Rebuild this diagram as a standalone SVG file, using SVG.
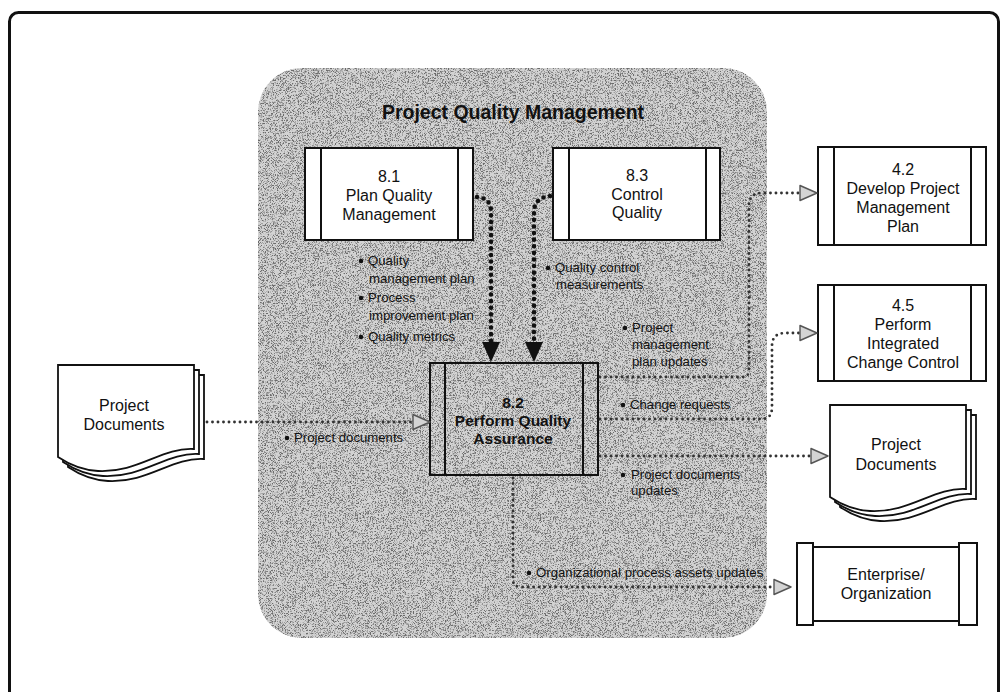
<svg xmlns="http://www.w3.org/2000/svg" width="1008" height="692" viewBox="0 0 1008 692">
  <style>
    .frame { fill: #fff; stroke: #111; stroke-width: 3; }
    .box { fill: #fff; stroke: #111; stroke-width: 2; }
    .box-clear { fill: none; stroke: #111; stroke-width: 2; }
    .bar { stroke: #111; stroke-width: 2; }
    .doc { fill: #fff; stroke: #111; stroke-width: 1.8; }
    .t-node { font-family: "Liberation Sans", Arial, sans-serif; font-size: 16px; fill: #111; text-anchor: middle; }
    .t-bold { font-family: "Liberation Sans", Arial, sans-serif; font-size: 15.5px; font-weight: bold; fill: #111; text-anchor: middle; }
    .t-title { font-family: "Liberation Sans", Arial, sans-serif; font-size: 19.5px; font-weight: bold; fill: #111; text-anchor: middle; }
    .t-lbl { font-family: "Liberation Sans", Arial, sans-serif; font-size: 13.2px; fill: #111; }
    .bullet { fill: #111; }
    .flow { fill: none; stroke: #333; stroke-width: 2.9; stroke-linecap: round; stroke-dasharray: 0 5.5; }
    .flow-main { fill: none; stroke: #111; stroke-width: 4.6; stroke-linecap: round; stroke-dasharray: 0 6.6; }
  </style>
  <defs>
    <!-- fine speckle over the process-group area -->
    <filter id="grain" x="0" y="0" width="1" height="1" color-interpolation-filters="sRGB">
      <feTurbulence type="fractalNoise" baseFrequency="1.4" numOctaves="1" seed="7" result="noise"/>
      <feColorMatrix in="noise" type="matrix" values="0 0 0 0 0.42  0 0 0 0 0.42  0 0 0 0 0.42  0 0 0 -5 2.6" result="specks"/>
      <feComposite in="specks" in2="SourceAlpha" operator="in" result="inside"/>
      <feMerge>
        <feMergeNode in="SourceGraphic"/>
        <feMergeNode in="inside"/>
      </feMerge>
    </filter>
    <!-- hollow grey arrowhead; base of the head sits on the path end -->
    <marker id="open-head" markerUnits="userSpaceOnUse" markerWidth="20" markerHeight="18" refX="0" refY="0" orient="auto" overflow="visible">
      <path d="M0,-7.5 L17,0 L0,7.5 Z" fill="#d4d4d4" stroke="#555" stroke-width="1.4" stroke-linejoin="round"/>
    </marker>
    <!-- solid black arrowhead for the main inputs -->
    <marker id="solid-head" markerUnits="userSpaceOnUse" markerWidth="22" markerHeight="22" refX="0" refY="0" orient="auto" overflow="visible">
      <path d="M-1,-9 L19,0 L-1,9 Z" fill="#111"/>
    </marker>
    <!-- document icon outline, 136 wide -->
    <path id="doc-shape" d="M0,0 H136 V84 C104,82 80,108 40,106 C22,105 9,98 0,92 Z"/>
  </defs>

  <!-- outer frame -->
  <rect class="frame" x="9.5" y="12.5" width="989" height="700" rx="9"/>

  <!-- knowledge area background -->
  <g id="area">
    <rect x="258" y="68" width="509" height="570" rx="44" fill="#d3d3d3" filter="url(#grain)"/>
    <text class="t-title" x="513" y="119">Project Quality Management</text>
  </g>

  <!-- nodes -->
  <g id="node-8-1">
    <rect class="box" x="305" y="148" width="168" height="92"/>
    <line class="bar" x1="321" y1="148" x2="321" y2="240"/>
    <line class="bar" x1="458" y1="148" x2="458" y2="240"/>
    <text class="t-node" x="389" y="182">8.1</text>
    <text class="t-node" x="389" y="201">Plan Quality</text>
    <text class="t-node" x="389" y="220">Management</text>
  </g>

  <g id="node-8-3">
    <rect class="box" x="553" y="148" width="167" height="92"/>
    <line class="bar" x1="569" y1="148" x2="569" y2="240"/>
    <line class="bar" x1="706" y1="148" x2="706" y2="240"/>
    <text class="t-node" x="637" y="181">8.3</text>
    <text class="t-node" x="637" y="200">Control</text>
    <text class="t-node" x="637" y="218">Quality</text>
  </g>

  <g id="node-8-2">
    <rect class="box-clear" x="430" y="363" width="168" height="112"/>
    <line class="bar" x1="445" y1="363" x2="445" y2="475"/>
    <line class="bar" x1="583" y1="363" x2="583" y2="475"/>
    <text class="t-bold" x="513" y="408">8.2</text>
    <text class="t-bold" x="513" y="426">Perform Quality</text>
    <text class="t-bold" x="513" y="444">Assurance</text>
  </g>

  <g id="node-4-2">
    <rect class="box" x="818" y="147" width="168" height="98"/>
    <line class="bar" x1="834" y1="147" x2="834" y2="245"/>
    <line class="bar" x1="971" y1="147" x2="971" y2="245"/>
    <text class="t-node" x="903" y="175">4.2</text>
    <text class="t-node" x="903" y="194">Develop Project</text>
    <text class="t-node" x="903" y="213">Management</text>
    <text class="t-node" x="903" y="232">Plan</text>
  </g>

  <g id="node-4-5">
    <rect class="box" x="818" y="285" width="168" height="96"/>
    <line class="bar" x1="834" y1="285" x2="834" y2="381"/>
    <line class="bar" x1="971" y1="285" x2="971" y2="381"/>
    <text class="t-node" x="903" y="311">4.5</text>
    <text class="t-node" x="903" y="330">Perform</text>
    <text class="t-node" x="903" y="349">Integrated</text>
    <text class="t-node" x="903" y="368">Change Control</text>
  </g>

  <g id="doc-in">
    <use href="#doc-shape" class="doc" transform="translate(68,375)"/>
    <use href="#doc-shape" class="doc" transform="translate(63,370)"/>
    <use href="#doc-shape" class="doc" transform="translate(58,365)"/>
    <text class="t-node" x="124" y="411">Project</text>
    <text class="t-node" x="124" y="430">Documents</text>
  </g>

  <g id="doc-out">
    <use href="#doc-shape" class="doc" transform="translate(840,415)"/>
    <use href="#doc-shape" class="doc" transform="translate(835,410)"/>
    <use href="#doc-shape" class="doc" transform="translate(830,405)"/>
    <text class="t-node" x="896" y="450">Project</text>
    <text class="t-node" x="896" y="470">Documents</text>
  </g>

  <g id="enterprise">
    <rect class="box" x="813" y="547" width="146" height="74"/>
    <rect class="box" x="797" y="543" width="16" height="82"/>
    <rect class="box" x="959" y="543" width="18" height="82"/>
    <text class="t-node" x="886" y="580">Enterprise/</text>
    <text class="t-node" x="886" y="599">Organization</text>
  </g>

  <!-- connectors -->
  <g id="connectors">
    <path class="flow-main" d="M477,197 Q491,198 491,212 L491,343" marker-end="url(#solid-head)"/>
    <path class="flow-main" d="M550,196 Q534,198 534,212 L534,343" marker-end="url(#solid-head)"/>
    <path class="flow" d="M207,422 L413,422" marker-end="url(#open-head)"/>
    <path class="flow" d="M600,377 L742,377 Q749,377 749,370 L749,206 Q749,193 762,193 L800,193" marker-end="url(#open-head)"/>
    <path class="flow" d="M600,419 L762,419 Q772,419 772,407 L772,346 Q772,333 786,333 L800,333" marker-end="url(#open-head)"/>
    <path class="flow" d="M600,456 L811,456" marker-end="url(#open-head)"/>
    <path class="flow" d="M513,478 L513,580 Q513,587 521,587 L774,587" marker-end="url(#open-head)"/>
  </g>

  <!-- flow labels -->
  <g id="labels">
    <circle class="bullet" cx="361" cy="261" r="2.3"/>
    <text class="t-lbl" x="368" y="265">Quality</text>
    <text class="t-lbl" x="369" y="283">management plan</text>
    <circle class="bullet" cx="361" cy="298" r="2.3"/>
    <text class="t-lbl" x="368" y="302">Process</text>
    <text class="t-lbl" x="369" y="320">improvement plan</text>
    <circle class="bullet" cx="361" cy="337" r="2.3"/>
    <text class="t-lbl" x="368" y="341">Quality metrics</text>

    <circle class="bullet" cx="548" cy="268" r="2.3"/>
    <text class="t-lbl" x="555" y="272">Quality control</text>
    <text class="t-lbl" x="556" y="289">measurements</text>

    <circle class="bullet" cx="625" cy="328" r="2.3"/>
    <text class="t-lbl" x="632" y="332">Project</text>
    <text class="t-lbl" x="632" y="349">management</text>
    <text class="t-lbl" x="632" y="366">plan updates</text>

    <circle class="bullet" cx="623" cy="405" r="2.3"/>
    <text class="t-lbl" x="630" y="409">Change requests</text>

    <circle class="bullet" cx="623" cy="475" r="2.3"/>
    <text class="t-lbl" x="631" y="479">Project documents</text>
    <text class="t-lbl" x="631" y="495">updates</text>

    <circle class="bullet" cx="529" cy="573" r="2.3"/>
    <text class="t-lbl" x="536" y="577">Organizational process assets updates</text>

    <circle class="bullet" cx="287" cy="438" r="2.3"/>
    <text class="t-lbl" x="294" y="442">Project documents</text>
  </g>
</svg>
